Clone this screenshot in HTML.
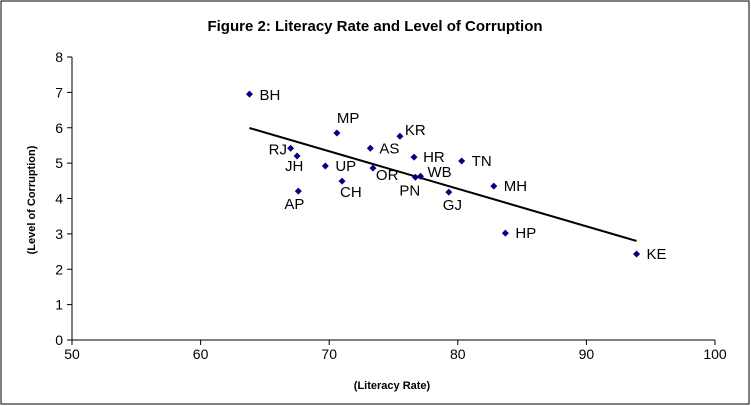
<!DOCTYPE html>
<html><head><meta charset="utf-8"><style>
html,body{margin:0;padding:0;background:#fff;}
svg{display:block;font-family:"Liberation Sans",Arial,sans-serif;}
</style></head><body>
<svg id="chart" width="751" height="406">
<rect x="1" y="1" width="748" height="403" fill="#fff" stroke="#000" stroke-width="1"/>
<text x="375" y="31" text-anchor="middle" font-size="15" font-weight="bold">Figure 2: Literacy Rate and Level of Corruption</text>
<g id="axes"></g>
<g id="marks"></g>
<text x="392" y="389" text-anchor="middle" font-size="11" font-weight="bold">(Literacy Rate)</text>
<text transform="translate(35,200) rotate(-90)" text-anchor="middle" font-size="11" font-weight="bold">(Level of Corruption)</text>
</svg>
<script>
const states = ["BH","MP","KR","RJ","AS","JH","HR","TN","UP","OR","WB","PN","CH","GJ","AP","MH","HP","KE"];
const literacy = [63.8,70.6,75.5,67.0,73.2,67.5,76.6,80.3,69.7,73.4,77.1,76.7,71.0,79.3,67.6,82.8,83.7,93.9];
const corruption = [6.95,5.85,5.76,5.42,5.42,5.2,5.17,5.06,4.92,4.86,4.63,4.6,4.49,4.18,4.21,4.35,3.02,2.43];
const xTicks = [50,60,70,80,90,100];
const yTicks = [0,1,2,3,4,5,6,7,8];
const labelPos = {BH:[10,6],MP:[0,-10],KR:[5,-1],RJ:[-22,6],AS:[9,5],JH:[-12,15],HR:[9,5],TN:[10,5],UP:[10,5],OR:[3,12],WB:[7,1],PN:[-16,18],CH:[-2,16],GJ:[-6,18],AP:[-14,18],MH:[10,5],HP:[10,5],KE:[10,5]};
const X0=72,X1=715,Y0=340,Y1=57;
const sx=v=>X0+(v-50)/50*(X1-X0);
const sy=v=>Y0-(v-0)/8*(Y0-Y1);
const NS="http://www.w3.org/2000/svg";
const axes=document.getElementById('axes'), marks=document.getElementById('marks');
function mk(tag,attrs,parent){const e=document.createElementNS(NS,tag);for(const k in attrs)e.setAttribute(k,attrs[k]);parent.appendChild(e);return e;}
let e=mk('line',{x1:X0,y1:Y0,x2:X1,y2:Y0,stroke:'#000'},axes);


e=mk('line',{x1:X0,y1:Y0,x2:X0,y2:Y1,stroke:'#000'},axes);


xTicks.forEach(t=>{
  mk('line',{x1:sx(t),y1:Y0,x2:sx(t),y2:Y0+5,stroke:'#000'},axes);
  const tx=mk('text',{x:sx(t),y:Y0+19,'text-anchor':'middle','font-size':'14'},axes);
  tx.textContent=t;
  
  
});
yTicks.forEach(t=>{
  mk('line',{x1:X0-5,y1:sy(t),x2:X0,y2:sy(t),stroke:'#000'},axes);
  const tx=mk('text',{x:X0-9,y:sy(t)+5,'text-anchor':'end','font-size':'14'},axes);
  tx.textContent=t;
  
  
});
const n=literacy.length;
const mx=literacy.reduce((a,b)=>a+b,0)/n, my=corruption.reduce((a,b)=>a+b,0)/n;
let sxy=0,sxx=0;for(let i=0;i<n;i++){sxy+=(literacy[i]-mx)*(corruption[i]-my);sxx+=(literacy[i]-mx)**2;}
const slope=sxy/sxx, icpt=my-slope*mx;
const xmin=Math.min(...literacy), xmax=Math.max(...literacy);
e=mk('line',{x1:sx(xmin),y1:sy(icpt+slope*xmin),x2:sx(xmax),y2:sy(icpt+slope*xmax),stroke:'#000','stroke-width':2},marks);


states.forEach((s,i)=>{
  const cx=sx(literacy[i]), cy=sy(corruption[i]);
  const p=mk('polygon',{points:`${cx},${cy-3.5} ${cx+3.5},${cy} ${cx},${cy+3.5} ${cx-3.5},${cy}`,fill:'#000080'},marks);
  
  
  const o=labelPos[s]||[10,5];
  const t=mk('text',{x:cx+o[0],y:cy+o[1],'font-size':'15'},marks);
  t.textContent=s;
  
  
});
</script>
</body></html>
